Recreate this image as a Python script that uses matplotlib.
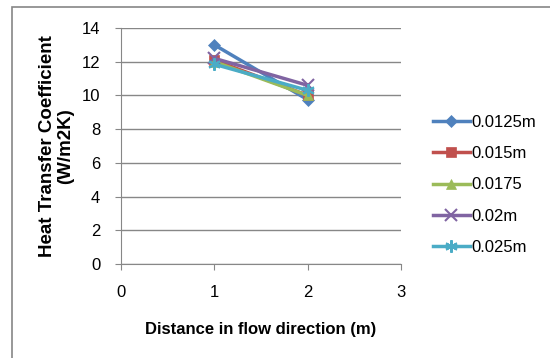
import matplotlib.pyplot as plt
from matplotlib.patches import Rectangle

plt.rcParams['font.family'] = ['Liberation Sans', 'DejaVu Sans']

distance = [1, 2]
series_names = ['0.0125m', '0.015m', '0.0175', '0.02m', '0.025m']
h_0125 = [13.0, 9.75]
h_015 = [12.1, 10.0]
h_0175 = [12.0, 10.0]
h_02 = [12.2, 10.6]
h_025 = [11.85, 10.3]

colors = ['#4F81BD', '#C0504D', '#9BBB59', '#8064A2', '#4BACC6']
markers = ['D', 's', '^', 'x', (6, 2, 0)]
sizes = [6, 7, 7, 8, 9]

fig = plt.figure(figsize=(5.5, 3.58), dpi=100)
ax = fig.add_axes([0.22, 0.2626, 0.509, 0.6592])

# chart border like the excel frame
fig.patches.append(Rectangle((12 / 550, -0.05), 1.2, 1 - 7 / 358 + 0.05,
                             transform=fig.transFigure, fill=False,
                             edgecolor='#868686', linewidth=1.2))

all_h = [h_0125, h_015, h_0175, h_02, h_025]
for name, h, c, m, s in zip(series_names, all_h, colors, markers, sizes):
    ax.plot(distance, h, color=c, marker=m, markersize=s, linewidth=2.5,
            markeredgewidth=1.5 if m in ('x', (6, 2, 0)) else 0.5,
            markeredgecolor=c, label=name)

ax.set_xlim(0, 3)
ax.set_ylim(0, 14)
ax.set_xticks([0, 1, 2, 3])
ax.set_yticks(range(0, 15, 2))
ax.grid(axis='y', color='#878787', linewidth=1)
ax.set_axisbelow(True)
for side in ['top', 'right']:
    ax.spines[side].set_visible(False)
for side in ['left', 'bottom']:
    ax.spines[side].set_color('#878787')
ax.tick_params(axis='both', colors='#878787', labelcolor='black',
               labelsize=12, length=4, direction='out')
ax.tick_params(axis='x', pad=11)
ax.tick_params(axis='y', pad=11)

ax.set_xlabel('Distance in flow direction (m)', fontsize=12, fontweight='bold',
              labelpad=16)
ax.set_ylabel('Heat Transfer Coefficient\n(W/m2K)', fontsize=13.5,
              fontweight='bold', labelpad=5, linespacing=1.1)

ax.legend(loc='center left', bbox_to_anchor=(1.114, 0.335), frameon=False,
          fontsize=12, handlelength=2.2, labelspacing=0.97, handletextpad=0.1,
          borderpad=0, borderaxespad=0)

fig.savefig('out.png', dpi=100)
